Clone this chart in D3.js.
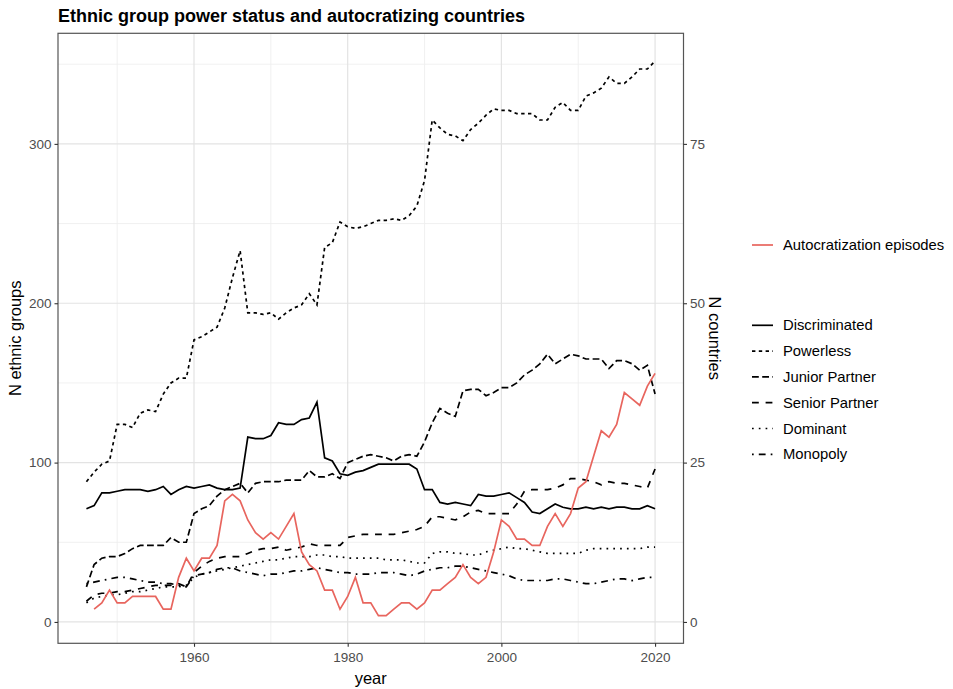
<!DOCTYPE html>
<html>
<head>
<meta charset="utf-8">
<script src="https://cdn.jsdelivr.net/npm/d3@7"></script>
<style>
  body { margin: 0; background: #ffffff; }
  text { font-family: "Liberation Sans", Arial, Helvetica, sans-serif; }
</style>
</head>
<body>
<svg id="chart" width="953" height="689"></svg>
<script>
// ---- data -------------------------------------------------------------
const years = d3.range(1946, 2021);

const discriminated = [71,73,81,81,82,83,83,83,82,83,85,80,83,85,84,85,86,84,83,83,84,
  116,115,115,117,125,124,124,127,128,138,
  103,101,93,92,94,95,97,99,99,99,99,99,96,
  83,83,75,74,75,74,73,
  80,79,79,80,81,78,75,69,68,71,74,72,71,71,72,71,72,71,72,72,71,71,73,71];

const powerless = [88,94,99,101,124,124,122,131,133,132,143,150,153,153,
  177,179,182,185,197,216,233,194,194,193,194,190,
  194,197,199,206,199,235,238,251,248,247,248,250,252,252,253,252,255,261,
  277,315,310,306,305,302,
  309,313,318,322,321,321,319,319,319,315,315,323,326,321,321,330,332,335,342,338,338,342,347,347,352];

const juniorPartner = [22,36,40,41,41,43,46,48,48,48,48,53,50,50,
  68,71,73,79,83,85,87,81,87,88,88,88,
  89,89,89,95,91,91,93,90,100,102,104,105,104,103,101,104,105,104,
  113,125,134,131,129,145,
  146,146,142,144,147,147,150,155,158,162,168,162,165,168,167,165,165,165,159,164,164,162,158,161,143];

const seniorPartner = [13,17,18,18,19,19,20,21,22,23,23,23,24,22,
  31,35,38,40,41,41,41,43,45,46,46,47,45,46,47,49,48,48,48,48,
  53,54,55,55,55,55,55,56,57,58,60,66,66,65,64,66,69,70,68,68,
  68,68,74,82,83,83,83,84,86,90,90,89,88,86,88,87,87,86,85,84,96];

const dominant = [12,15,16,17,17,18,19,19,20,21,22,22,22,23,
  28,30,31,32,33,34,35,36,37,38,
  39,39,40,41,41,41,42,42,41,41,
  40,40,40,40,40,39,39,39,38,37,
  37,43,44,44,43,43,42,42,44,45,
  46,47,46,46,45,44,43,43,43,43,
  43,45,46,46,46,46,46,46,46,47,47];

const monopoly = [24,25,26,27,28,28,27,26,25,25,24,24,23,22,
  29,30,31,33,34,34,32,31,30,29,
  30,30,31,32,32,33,34,33,32,31,
  31,30,30,30,31,31,31,30,29,30,
  32,33,34,34,35,35,34,33,32,31,
  30,29,27,26,26,26,26,27,27,26,
  25,24,24,25,26,27,27,26,27,28,28];

// countries in an autocratization episode (right axis)
const autocratization = [null,2,3,5,3,3,4,4,4,4,2,2,7,10,
  8,10,10,12,19,20,19,16,14,13,
  14,13,15,17,11,9,8,5,5,2,
  4,7,3,3,1,1,2,3,3,2,
  3,5,5,6,7,9,7,6,7,11,
  16,15,13,13,12,12,15,17,15,17,
  21,22,26,30,29,31,36,35,34,37,39];

const statusNames = ["Discriminated","Powerless","Junior Partner","Senior Partner","Dominant","Monopoly"];
const statusValues = [discriminated, powerless, juniorPartner, seniorPartner, dominant, monopoly];
const episodeName = "Autocratization episodes";

const yearTicks = [1960, 1980, 2000, 2020];
const yearMinor = [1950, 1970, 1990, 2010];
const groupTicks = [0, 100, 200, 300];
const groupMinor = [50, 150, 250, 350];
const countryTicks = [0, 25, 50, 75];
const countryToGroups = 4;   // secondary axis: groups = 4 x countries

// ---- styles ------------------------------------------------------------
const dashes = ["none", "3.4,3.4", "6.8,3.4", "6.8,6.8", "1.7,5.1", "1.7,5.1,6.8,5.1"];
const episodeColor = "#E8655E";
const lineWidth = 1.7;

// ---- layout --------------------------------------------------------------
const svg = d3.select("#chart");
const panel = { left: 58, right: 683.5, top: 33.3, bottom: 643.3 };

const xSpan = d3.extent(years);
const xPad = (xSpan[1] - xSpan[0]) * 0.05;
const x = d3.scaleLinear()
  .domain([xSpan[0] - xPad, xSpan[1] + xPad])
  .range([panel.left, panel.right]);

const allVals = statusValues.flat().concat(autocratization.filter(v => v != null).map(v => v * countryToGroups));
const ySpan = d3.extent(allVals);
const yPad = (ySpan[1] - ySpan[0]) * 0.05;
const y = d3.scaleLinear()
  .domain([ySpan[0] - yPad, ySpan[1] + yPad])
  .range([panel.bottom, panel.top]);

// grid
const grid = svg.append("g");
grid.selectAll("line.hminor").data(groupMinor).join("line")
  .attr("x1", panel.left).attr("x2", panel.right)
  .attr("y1", d => y(d)).attr("y2", d => y(d))
  .attr("stroke", "#eeeeee").attr("stroke-width", 0.9);
grid.selectAll("line.vminor").data(yearMinor).join("line")
  .attr("y1", panel.top).attr("y2", panel.bottom)
  .attr("x1", d => x(d)).attr("x2", d => x(d))
  .attr("stroke", "#eeeeee").attr("stroke-width", 0.9);
grid.selectAll("line.hmajor").data(groupTicks).join("line")
  .attr("x1", panel.left).attr("x2", panel.right)
  .attr("y1", d => y(d)).attr("y2", d => y(d))
  .attr("stroke", "#e3e3e3").attr("stroke-width", 1.2);
grid.selectAll("line.vmajor").data(yearTicks).join("line")
  .attr("y1", panel.top).attr("y2", panel.bottom)
  .attr("x1", d => x(d)).attr("x2", d => x(d))
  .attr("stroke", "#e3e3e3").attr("stroke-width", 1.2);

// series
const line = d3.line()
  .defined(d => d[1] != null)
  .x(d => x(d[0]))
  .y(d => y(d[1]));

const lines = svg.append("g");
statusValues.forEach((vals, i) => {
  lines.append("path")
    .datum(years.map((yr, k) => [yr, vals[k]]))
    .attr("fill", "none")
    .attr("stroke", "#000")
    .attr("stroke-width", lineWidth)
    .attr("stroke-dasharray", dashes[i])
    .attr("d", line);
});
lines.append("path")
  .datum(years.map((yr, k) => [yr, autocratization[k] == null ? null : autocratization[k] * countryToGroups]))
  .attr("fill", "none")
  .attr("stroke", episodeColor)
  .attr("stroke-width", lineWidth)
  .attr("d", line);

// panel border
svg.append("rect")
  .attr("x", panel.left).attr("y", panel.top)
  .attr("width", panel.right - panel.left).attr("height", panel.bottom - panel.top)
  .attr("fill", "none").attr("stroke", "#555").attr("stroke-width", 1.2);

// axes
const tickColor = "#4d4d4d";
const leftAxis = svg.append("g").attr("transform", `translate(${panel.left},0)`)
  .call(d3.axisLeft(y).tickValues(groupTicks).tickSize(3.5).tickPadding(3));
const bottomAxis = svg.append("g").attr("transform", `translate(0,${panel.bottom})`)
  .call(d3.axisBottom(x).tickValues(yearTicks).tickFormat(d3.format("d")).tickSize(3.5).tickPadding(6));
const yRight = d3.scaleLinear()
  .domain(y.domain().map(v => v / countryToGroups))
  .range(y.range());
const rightAxis = svg.append("g").attr("transform", `translate(${panel.right},0)`)
  .call(d3.axisRight(yRight).tickValues(countryTicks).tickSize(3.5).tickPadding(3));

[leftAxis, bottomAxis, rightAxis].forEach(g => {
  g.select(".domain").remove();
  g.selectAll(".tick line").attr("stroke", "#333").attr("stroke-width", 1.1);
  g.selectAll(".tick text").attr("fill", tickColor).style("font-size", "13.5px")
    .style("font-family", "'Liberation Sans', Arial, sans-serif");
});

// titles
svg.append("text").attr("x", 58).attr("y", 22)
  .style("font-size", "18px").style("font-weight", "bold")
  .text("Ethnic group power status and autocratizing countries");

svg.append("text")
  .attr("transform", `translate(21,${(panel.top + panel.bottom) / 2}) rotate(-90)`)
  .attr("text-anchor", "middle").style("font-size", "16.5px")
  .text("N ethnic groups");

svg.append("text")
  .attr("transform", `translate(709,${(panel.top + panel.bottom) / 2}) rotate(90)`)
  .attr("text-anchor", "middle").style("font-size", "16.5px")
  .text("N countries");

svg.append("text")
  .attr("x", (panel.left + panel.right) / 2).attr("y", 684)
  .attr("text-anchor", "middle").style("font-size", "16.5px")
  .text("year");

// legends
const keyX1 = 752, keyX2 = 773, labelX = 783;
const epLegend = svg.append("g");
epLegend.append("line").attr("x1", keyX1).attr("x2", keyX2).attr("y1", 245).attr("y2", 245)
  .attr("stroke", episodeColor).attr("stroke-width", lineWidth);
epLegend.append("text").attr("x", labelX).attr("y", 245).attr("dy", "0.35em")
  .style("font-size", "14.8px").text(episodeName);

const stLegend = svg.append("g");
statusNames.forEach((name, i) => {
  const ly = 325.3 + i * 25.8;
  stLegend.append("line").attr("x1", keyX1).attr("x2", keyX2).attr("y1", ly).attr("y2", ly)
    .attr("stroke", "#000").attr("stroke-width", lineWidth).attr("stroke-dasharray", dashes[i]);
  stLegend.append("text").attr("x", labelX).attr("y", ly).attr("dy", "0.35em")
    .style("font-size", "14.8px").text(name);
});
</script>
</body>
</html>
